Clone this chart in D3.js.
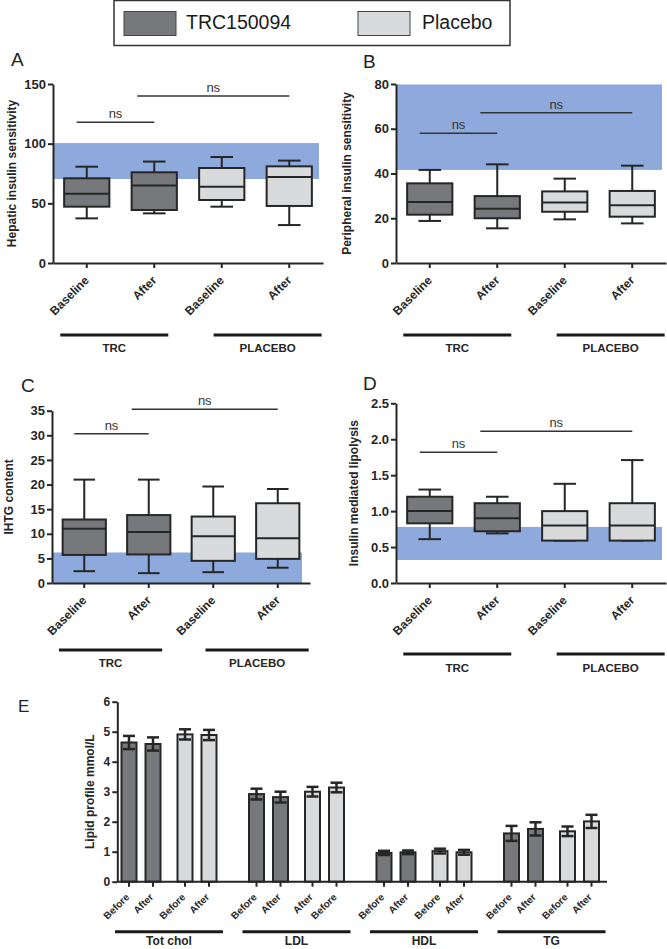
<!DOCTYPE html>
<html><head><meta charset="utf-8">
<script src="https://cdn.jsdelivr.net/npm/d3@7"></script>
<style>
body{margin:0;background:#fff;}
svg{display:block;font-family:"Liberation Sans",Arial,Helvetica,sans-serif;}
</style></head><body>
<svg id="chart" width="667" height="949"></svg>
<script>
// ---------------- DATA ----------------
const legendLabels = ["TRC150094", "Placebo"];
const boxCategories = ["Baseline", "After", "Baseline", "After"];
const boxTreatment = ["TRC", "TRC", "Placebo", "Placebo"];
const boxGroups = ["TRC", "PLACEBO"];

// [min, Q1, median, Q3, max]
const hepaticValues = [[37.4, 47.2, 58, 71, 80.7], [41.6, 44.4, 65, 76, 85], [47.2, 52.8, 64, 79.6, 88.8], [31.8, 47.8, 72, 81, 85.8]];
const peripheralValues = [[18.8, 21.6, 27.3, 35.6, 41.6], [15.5, 20, 24.3, 29.9, 44.1], [19.5, 22.9, 27, 32, 37.7], [17.7, 20.7, 25.8, 32.2, 43.5]];
const ihtgValues = [[2.4, 5.7, 11, 12.9, 21], [2.0, 5.8, 10.35, 13.8, 21], [2.2, 4.5, 9.5, 13.5, 19.6], [3.1, 4.9, 9.1, 16.2, 19.1]];
const lipolysisValues = [[0.61, 0.83, 1.0, 1.2, 1.3], [0.69, 0.72, 0.9, 1.11, 1.2], [0.59, 0.59, 0.8, 1.0, 1.38], [0.59, 0.59, 0.8, 1.11, 1.71]];

const hepaticTicks = [0, 50, 100, 150];
const peripheralTicks = [0, 20, 40, 60, 80];
const ihtgTicks = [0, 5, 10, 15, 20, 25, 30, 35];
const lipolysisTicks = [0, 0.5, 1.0, 1.5, 2.0, 2.5];

// normal reference ranges (blue bands) [low, high]
const hepaticNormal = [70.4, 100.5];
const peripheralNormal = [41.6, 79.8];
const ihtgNormal = [0, 6.2];
const lipolysisNormal = [0.32, 0.78];

// "ns" comparisons [fromIndex, toIndex, level]
const hepaticNs = [[0, 1, 118], [1, 3, 140]];
const peripheralNs = [[0, 1, 58], [1, 3, 67.2]];
const ihtgNs = [[0, 1, 30.3], [1, 3, 35.3]];
const lipolysisNs = [[0, 1, 1.82], [1, 3, 2.11]];

// Lipid profile
const lipidGroups = ["Tot chol", "LDL", "HDL", "TG"];
const lipidBarTreatment = ["TRC", "TRC", "Placebo", "Placebo"];
const lipidBarLabels = [["Before", "After", "Before", "After"], ["Before", "After", "After", "Before"], ["Before", "After", "Before", "After"], ["Before", "After", "Before", "After"]];
const lipidMeans = [[4.64, 4.59, 4.91, 4.89], [2.92, 2.82, 3.00, 3.14], [0.96, 0.98, 1.02, 0.98], [1.61, 1.76, 1.68, 2.01]];
const lipidErrors = [[0.22, 0.22, 0.17, 0.17], [0.18, 0.18, 0.16, 0.16], [0.07, 0.06, 0.08, 0.08], [0.25, 0.22, 0.16, 0.22]];
const lipidTicks = [0, 1, 2, 3, 4, 5, 6];

// ---------------- STYLE ----------------
const INK = "#262626";
const DARK = "#77787b";
const LIGHT = "#d9dadc";
const BLUE = "#8eaadc";
const fillOf = t => t === "TRC" ? DARK : LIGHT;

const svg = d3.select("#chart");

// ---------------- LEGEND ----------------
const leg = svg.append("g");
leg.append("rect").attr("x", 114).attr("y", 0.5).attr("width", 396).attr("height", 45)
  .attr("fill", "#fff").attr("stroke", "#333").attr("stroke-width", 1.5);
[[124, 186], [358, 422]].forEach(([sx, tx], i) => {
  leg.append("rect").attr("x", sx).attr("y", 11.5).attr("width", 52).attr("height", 24)
    .attr("fill", fillOf(i === 0 ? "TRC" : "Placebo")).attr("stroke", "#444").attr("stroke-width", 1);
  leg.append("text").attr("x", tx).attr("y", 28.5).attr("font-size", 19.5).attr("fill", "#1a1a1a").text(legendLabels[i]);
});

// ---------------- BOX PANELS ----------------
function boxPanel(p) {
  const g = svg.append("g");
  const x = d3.scaleBand().domain(d3.range(boxCategories.length)).range([p.x0, p.x1]);
  const y = d3.scaleLinear().domain([0, p.ticks[p.ticks.length - 1]]).range([p.yBottom, p.yTop]);
  const cx = i => x(i) + x.bandwidth() / 2;

  g.append("rect").attr("x", p.x0).attr("width", p.bandX1 - p.x0)
    .attr("y", y(p.normal[1])).attr("height", y(p.normal[0]) - y(p.normal[1])).attr("fill", BLUE);

  const bw = x.bandwidth() * 0.67;
  p.values.forEach((v, i) => {
    const [mn, q1, md, q3, mx] = v;
    const c = cx(i);
    const st = sel => sel.attr("stroke", INK).attr("stroke-width", 2);
    st(g.append("line").attr("x1", c).attr("x2", c).attr("y1", y(q3)).attr("y2", y(mx)));
    st(g.append("line").attr("x1", c).attr("x2", c).attr("y1", y(q1)).attr("y2", y(mn)));
    st(g.append("line").attr("x1", c - bw / 4).attr("x2", c + bw / 4).attr("y1", y(mx)).attr("y2", y(mx)));
    st(g.append("line").attr("x1", c - bw / 4).attr("x2", c + bw / 4).attr("y1", y(mn)).attr("y2", y(mn)));
    st(g.append("rect").attr("x", c - bw / 2).attr("width", bw).attr("y", y(q3)).attr("height", y(q1) - y(q3))
      .attr("fill", fillOf(boxTreatment[i])));
    st(g.append("line").attr("x1", c - bw / 2).attr("x2", c + bw / 2).attr("y1", y(md)).attr("y2", y(md)));
  });

  // ns annotations
  p.ns.forEach(([a, b, lv], k) => {
    const xa = cx(a) - (k === 0 ? 10 : 17), xb = cx(b);
    g.append("line").attr("x1", xa).attr("x2", xb).attr("y1", y(lv)).attr("y2", y(lv))
      .attr("stroke", "#333").attr("stroke-width", 1.5);
    g.append("text").attr("x", (xa + xb) / 2).attr("y", y(lv) - 4).attr("text-anchor", "middle")
      .attr("font-size", 13).attr("fill", "#333").text("ns");
  });

  // axes
  const ya = g.append("g").attr("transform", `translate(${p.x0},0)`)
    .call(d3.axisLeft(y).tickValues(p.ticks).tickSize(5).tickPadding(2).tickSizeOuter(0).tickFormat(p.fmt || d3.format("d")));
  const xa = g.append("g").attr("transform", `translate(0,${p.yBottom})`)
    .call(d3.axisBottom(x).tickSize(5).tickSizeOuter(0).tickFormat(i => boxCategories[i]));
  [ya, xa].forEach(a => {
    a.select(".domain").attr("stroke", INK).attr("stroke-width", 2);
    a.selectAll(".tick line").attr("stroke", INK).attr("stroke-width", 2);
    a.selectAll("text").attr("fill", INK).attr("font-weight", "bold")
      .attr("font-family", "'Liberation Sans',Arial,sans-serif");
  });
  ya.selectAll("text").attr("font-size", 13);
  xa.selectAll("text").attr("font-size", 12).attr("x", 0).attr("y", 0).attr("dy", 0)
    .attr("text-anchor", "end").attr("transform", "translate(3,18) rotate(-45)");

  // y title
  g.append("text").attr("transform", `translate(${p.titleX},${(p.yTop + p.yBottom) / 2}) rotate(-90)`)
    .attr("text-anchor", "middle").attr("font-size", 12).attr("font-weight", "bold").attr("fill", INK).text(p.title);

  // panel letter
  g.append("text").attr("x", p.letter[0]).attr("y", p.letter[1]).attr("font-size", 19).attr("fill", "#222").text(p.name);

  // group lines
  const W = p.x1 - p.x0;
  const spans = [[p.x0 + 0.027 * W, p.x0 + 0.427 * W], [p.x1 - 0.405 * W, p.x1 - 0.005 * W]];
  spans.forEach(([a, b], i) => {
    g.append("line").attr("x1", a).attr("x2", b).attr("y1", p.groupY).attr("y2", p.groupY)
      .attr("stroke", "#1a1a1a").attr("stroke-width", 3);
    g.append("text").attr("x", (a + b) / 2).attr("y", p.groupTextY).attr("text-anchor", "middle")
      .attr("font-size", 11.5).attr("font-weight", "bold").attr("fill", INK).text(boxGroups[i]);
  });
}

boxPanel({ name: "A", values: hepaticValues, ticks: hepaticTicks, normal: hepaticNormal, ns: hepaticNs,
  title: "Hepatic insulin sensitivity", x0: 53, x1: 323, yTop: 84, yBottom: 263, bandX1: 319,
  titleX: 16, letter: [11, 66], groupY: 335, groupTextY: 352 });
boxPanel({ name: "B", values: peripheralValues, ticks: peripheralTicks, normal: peripheralNormal, ns: peripheralNs,
  title: "Peripheral insulin sensitivity", x0: 396, x1: 666, yTop: 84, yBottom: 263, bandX1: 662,
  titleX: 351, letter: [363, 68], groupY: 335, groupTextY: 352 });
boxPanel({ name: "C", values: ihtgValues, ticks: ihtgTicks, normal: ihtgNormal, ns: ihtgNs,
  title: "IHTG content", x0: 52, x1: 310, yTop: 410.7, yBottom: 583, bandX1: 302,
  titleX: 13, letter: [21, 392], groupY: 650, groupTextY: 667 });
boxPanel({ name: "D", values: lipolysisValues, ticks: lipolysisTicks, normal: lipolysisNormal, ns: lipolysisNs,
  title: "Insulin mediated lipolysis", x0: 396, x1: 666, yTop: 403.3, yBottom: 583, bandX1: 662,
  titleX: 358, letter: [363, 390], groupY: 654, groupTextY: 672, fmt: d3.format(".1f") });

// ---------------- LIPID PANEL ----------------
(function () {
  const g = svg.append("g");
  const x0 = 117.3, x1 = 607, yTop = 701.7, yBottom = 881.7;
  const gx = d3.scaleBand().domain(lipidGroups).range([105.25, 615.25]);
  const bwG = gx.bandwidth();
  const tx = d3.scalePoint().domain(["TRC", "Placebo"]).range([bwG / 2 - 28, bwG / 2 + 28]);
  const time = d3.scalePoint().domain([0, 1]).range([-12, 12]);
  const y = d3.scaleLinear().domain([0, 6]).range([yBottom, yTop]);
  const barX = (gi, bi) => gx(lipidGroups[gi]) + tx(lipidBarTreatment[bi]) + time(bi % 2);
  const barW = 15;

  lipidMeans.forEach((row, gi) => {
    row.forEach((m, bi) => {
      const c = barX(gi, bi);
      g.append("rect").attr("x", c - barW / 2).attr("width", barW).attr("y", y(m)).attr("height", y(0) - y(m))
        .attr("fill", fillOf(lipidBarTreatment[bi])).attr("stroke", INK).attr("stroke-width", 2);
      const e = lipidErrors[gi][bi];
      const st = s => s.attr("stroke", INK).attr("stroke-width", 2.5);
      st(g.append("line").attr("x1", c).attr("x2", c).attr("y1", y(m - e)).attr("y2", y(m + e)));
      st(g.append("line").attr("x1", c - 6).attr("x2", c + 6).attr("y1", y(m + e)).attr("y2", y(m + e)));
      st(g.append("line").attr("x1", c - 6).attr("x2", c + 6).attr("y1", y(m - e)).attr("y2", y(m - e)));
      // tick + label
      g.append("line").attr("x1", c).attr("x2", c).attr("y1", yBottom).attr("y2", yBottom + 5)
        .attr("stroke", INK).attr("stroke-width", 2);
      g.append("text").attr("transform", `translate(${c + 1},${yBottom + 16}) rotate(-45)`)
        .attr("text-anchor", "end").attr("font-size", 10).attr("font-weight", "bold").attr("fill", INK)
        .text(lipidBarLabels[gi][bi]);
    });
    const cgx = gx(lipidGroups[gi]) + bwG / 2;
    g.append("line").attr("x1", cgx - 54).attr("x2", cgx + 54).attr("y1", 931.7).attr("y2", 931.7)
      .attr("stroke", "#1a1a1a").attr("stroke-width", 3);
    g.append("text").attr("x", cgx).attr("y", 945).attr("text-anchor", "middle")
      .attr("font-size", 12).attr("font-weight", "bold").attr("fill", INK).text(lipidGroups[gi]);
  });

  g.append("line").attr("x1", x0).attr("x2", x1).attr("y1", yBottom).attr("y2", yBottom)
    .attr("stroke", INK).attr("stroke-width", 2);
  const ya = g.append("g").attr("transform", `translate(${x0},0)`)
    .call(d3.axisLeft(y).tickValues(lipidTicks).tickSize(5).tickPadding(2).tickSizeOuter(0).tickFormat(d3.format("d")));
  ya.select(".domain").attr("stroke", INK).attr("stroke-width", 2);
  ya.selectAll(".tick line").attr("stroke", INK).attr("stroke-width", 2);
  ya.selectAll("text").attr("fill", INK).attr("font-weight", "bold").attr("font-size", 12)
    .attr("font-family", "'Liberation Sans',Arial,sans-serif");

  g.append("text").attr("transform", `translate(94,${(yTop + yBottom) / 2}) rotate(-90)`)
    .attr("text-anchor", "middle").attr("font-size", 12).attr("font-weight", "bold").attr("fill", INK)
    .text("Lipid profile mmol/L");
  g.append("text").attr("x", 18).attr("y", 712).attr("font-size", 17).attr("fill", "#222").text("E");
})();
</script>
</body></html>
